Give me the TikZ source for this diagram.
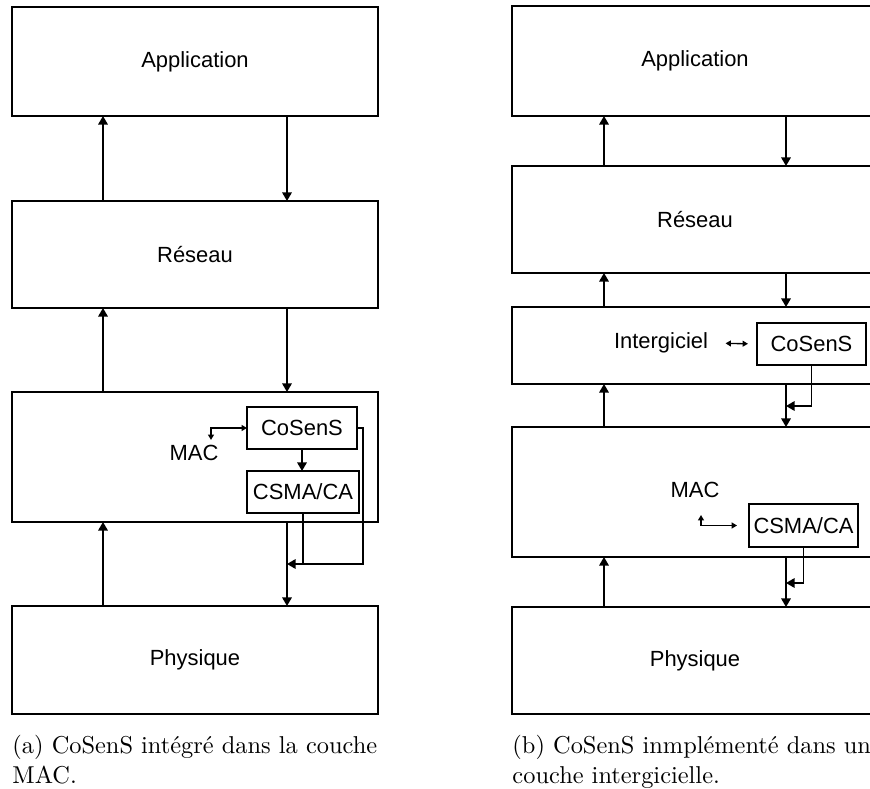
\documentclass[tikz,border=0pt]{standalone}
\usepackage{fontspec}
\newfontfamily\arialf{Liberation Sans}
\usetikzlibrary{arrows.meta,fit,calc}
\begin{document}
\begin{tikzpicture}[x=0.41pt,y=-0.41pt,
  box/.style={draw, line width=0.8pt, inner sep=0pt, outer sep=0pt},
  lbl/.style={inner sep=0pt, font=\arialf\fontsize{9}{11}\selectfont},
  every label/.style={lbl},
  arr/.style={line width=0.6pt, -{Triangle[length=3.5pt,width=3.9pt]}},
  dbl/.style={line width=0.55pt, {Triangle[length=2.2pt,width=2.4pt]}-{Triangle[length=2.2pt,width=2.4pt]}},
  captxt/.style={anchor=north west, inner sep=0pt, align=left, font=\fontsize{10}{12}\selectfont}]
\useasboundingbox (0,0) rectangle (870,789);
\clip (0,0) rectangle (870,789);

% ---------- left panel ----------
\node[box, fit={(12,7) (378,116)}, label=center:Application] (appA) {};
\node[box, fit={(12,201) (378,308)}, label=center:Réseau] (resA) {};
\node[box, fit={(12,392) (378,522)}] (macA) {};
\node[box, fit={(12,606) (378,714)}, label=center:Physique] (phyA) {};
\node[box, fit={(247,407) (357,449)}, label=center:CoSenS] (cosA) {};
\node[box, fit={(247,471) (359,513)}, label=center:CSMA/CA] (csmaA) {};
\node[lbl] (macAl) at (194,453) {MAC};

\coordinate (lu) at (103,0);
\coordinate (ld) at (287,0);
\coordinate (jA) at (287,564);
\coordinate (macAk) at (211,440);

\draw[arr] (resA.north -| lu) -- (appA.south -| lu);
\draw[arr] (appA.south -| ld) -- (resA.north -| ld);
\draw[arr] (macA.north -| lu) -- (resA.south -| lu);
\draw[arr] (resA.south -| ld) -- (macA.north -| ld);
\draw[arr] (phyA.north -| lu) -- (macA.south -| lu);
\draw[arr] (macA.south -| ld) -- (phyA.north -| ld);
\draw[arr] (cosA.south) -- (cosA.south |- csmaA.north);
\draw[dbl] (macAk) |- (cosA.west);
\draw[arr] (cosA.east) -- ++(6,0) |- (jA);
\draw[line width=0.6pt] (csmaA.south) -- (csmaA.south |- jA);

% ---------- right panel ----------
\node[box, fit={(512,6) (878,116)}, label=center:Application] (appB) {};
\node[box, fit={(512,166) (878,273)}, label=center:Réseau] (resB) {};
\node[box, fit={(512,307) (878,384)}] (intB) {};
\node[box, fit={(512,427) (878,557)}] (macB) {};
\node[box, fit={(512,607) (878,714)}, label=center:Physique] (phyB) {};
\node[box, fit={(757,323) (866,365)}, label=center:CoSenS] (cosB) {};
\node[box, fit={(749,504) (858,547)}, label=center:CSMA/CA] (csmaB) {};
\node[lbl] (intBl) at (661,343) {Intergiciel};
\node[lbl] (macBl) at (695,490) {MAC};

\coordinate (ru) at (604,0);
\coordinate (rd) at (786,0);
\coordinate (jB1) at (786,406);
\coordinate (jB2) at (786,583);
\coordinate (macBk) at (701,515);

\draw[arr] (resB.north -| ru) -- (appB.south -| ru);
\draw[arr] (appB.south -| rd) -- (resB.north -| rd);
\draw[arr] (intB.north -| ru) -- (resB.south -| ru);
\draw[arr] (resB.south -| rd) -- (intB.north -| rd);
\draw[arr] (macB.north -| ru) -- (intB.south -| ru);
\draw[arr] (intB.south -| rd) -- (macB.north -| rd);
\draw[arr] (phyB.north -| ru) -- (macB.south -| ru);
\draw[arr] (macB.south -| rd) -- (phyB.north -| rd);
\draw[dbl, shorten <=7pt, shorten >=3.7pt] (intBl.east) -- (cosB.west);
\draw[arr] (cosB.south) |- (jB1);
\draw[arr] (csmaB.south) |- (jB2);
\draw[dbl, shorten >=4.9pt] (macBk) |- (csmaB.west);

% ---------- captions ----------
\node[captxt] (capA) at (12,735) {(a) CoSenS intégré dans la couche\\MAC.};
\node[captxt] (capB) at (512,735) {(b) CoSenS inmplémenté dans une\\couche intergicielle.};
\end{tikzpicture}
\end{document}
